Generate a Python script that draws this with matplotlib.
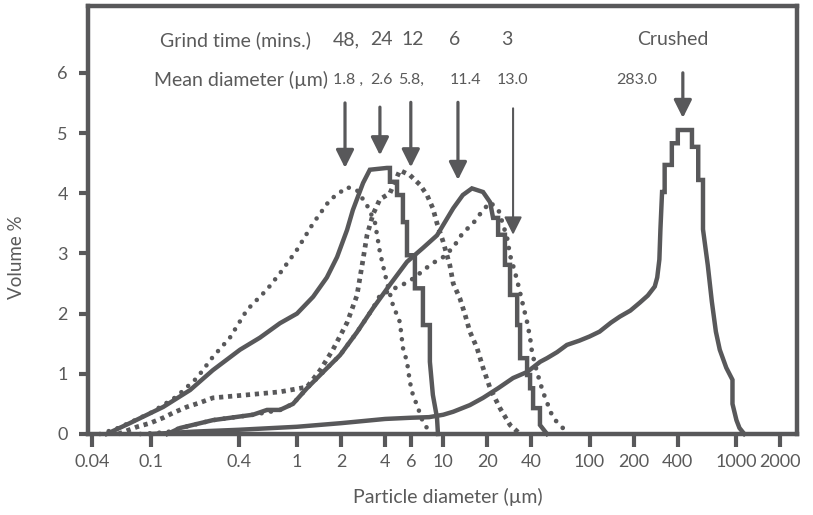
import matplotlib
matplotlib.use("Agg")
import matplotlib.pyplot as plt

# ---------------- data (particle diameter in µm, volume %) ----------------
d48 = [0.045, 0.06, 0.1, 0.15, 0.207, 0.266, 0.348, 0.455, 0.624, 0.765, 1.0, 1.29, 1.68, 2.2, 2.57,
       3.01, 3.41, 3.69, 4.12, 4.53, 5.05, 5.3, 5.65, 5.92, 6.2, 6.61, 7.26, 7.74, 8.1]
v48 = [0.0, 0.1, 0.35, 0.62, 0.93, 1.28, 1.6, 2.06, 2.4, 2.67, 3.06, 3.5, 3.89, 4.1, 4.05,
       3.8, 3.52, 3.02, 2.52, 2.14, 1.86, 1.43, 1.2, 0.86, 0.65, 0.48, 0.2, 0.1, 0.0]

d24 = [0.05, 0.072, 0.122, 0.186, 0.266, 0.408, 0.558, 0.765, 1.0, 1.29, 1.6, 1.88, 2.2, 2.41, 2.83,
       3.15, 4.12, 4.32, 4.32, 4.83, 4.83, 5.3, 5.3, 5.65, 5.65, 6.4, 6.4, 7.26, 7.26, 8.1, 8.1, 8.49, 9.06, 9.2]
v24 = [0.0, 0.18, 0.45, 0.73, 1.06, 1.4, 1.6, 1.84, 2.0, 2.28, 2.6, 2.94, 3.39, 3.72, 4.17,
       4.39, 4.42, 4.42, 4.19, 4.19, 3.97, 3.97, 3.52, 3.52, 2.97, 2.97, 2.42, 2.42, 1.81, 1.81, 1.2, 0.65, 0.27, 0.0]

d12 = [0.06, 0.081, 0.099, 0.122, 0.142, 0.177, 0.217, 0.266, 0.455, 0.765, 1.17, 1.44, 1.76, 2.2, 2.57,
       2.83, 3.01, 3.31, 3.69, 4.32, 5.05, 5.92, 6.93, 7.74, 8.49, 9.06, 9.96, 11.1, 11.7, 13.0, 14.1,
       15.2, 17.0, 18.7, 20.9, 24.4, 28.6, 33.5]
v12 = [0.0, 0.12, 0.18, 0.27, 0.35, 0.45, 0.52, 0.6, 0.65, 0.7, 0.78, 1.06, 1.4, 1.85, 2.3,
       2.9, 3.3, 3.65, 3.9, 4.0, 4.38, 4.3, 4.14, 3.97, 3.75, 3.5, 3.2, 2.8, 2.5, 2.25, 1.98,
       1.7, 1.43, 1.1, 0.76, 0.43, 0.15, 0.0]

d6 = [0.13, 0.159, 0.266, 0.5, 0.624, 0.765, 0.939, 1.17, 1.51, 1.97, 2.57, 3.31, 4.32, 5.65, 7.26,
      9.06, 11.7, 13.6, 15.7, 18.7, 20.9, 21.9, 23.7, 23.7, 26.4, 26.4, 28.6, 28.6, 32.0, 32.0, 33.5,
      33.5, 37.4, 37.4, 39.2, 39.2, 41.1, 41.1, 45.8, 45.8, 51.2]
v6 = [0.0, 0.1, 0.23, 0.32, 0.4, 0.4, 0.5, 0.76, 1.03, 1.31, 1.69, 2.09, 2.48, 2.86, 3.09,
      3.3, 3.75, 3.97, 4.08, 4.02, 3.85, 3.59, 3.59, 3.31, 3.31, 2.81, 2.81, 2.31, 2.31, 1.81, 1.81,
      1.26, 1.26, 0.98, 0.98, 0.76, 0.76, 0.43, 0.43, 0.15, 0.0]

d3 = [0.085, 0.13, 0.16, 0.266, 0.5, 0.765, 0.939, 1.17, 1.51, 1.97, 2.57, 3.31, 3.69, 4.83, 5.47,
      6.4, 7.3, 8.5, 10.0, 11.7, 13.6, 16.0, 18.7, 21.0, 24.0, 27.3, 28.6, 30.9, 32.5, 35.1, 37.4,
      39.2, 40.4, 43.7, 48.0, 52.0, 56.2, 62.7, 70.0, 73.0]
v3 = [0.0, 0.03, 0.1, 0.23, 0.32, 0.4, 0.5, 0.76, 1.03, 1.31, 1.69, 2.09, 2.3, 2.44, 2.5,
      2.6, 2.72, 2.84, 2.94, 3.1, 3.34, 3.5, 3.72, 3.85, 3.7, 3.26, 2.97, 2.69, 2.48, 2.14, 1.86,
      1.6, 1.36, 1.03, 0.7, 0.48, 0.27, 0.15, 0.03, 0.0]

dcr = [0.1, 0.2, 0.4, 1.0, 2.0, 4.0, 6.0, 8.0, 10.0, 11.7, 15.2, 18.7, 23.7, 30.0, 37.4, 46.0, 51.2,
       60.0, 70.0, 85.0, 100.0, 117.0, 140.0, 161.0, 190.0, 220.0, 250.0, 279.0, 290.0, 300.0, 305.0,
       313.0, 326.0, 326.0, 365.0, 365.0, 401.0, 401.0, 501.0, 501.0, 553.0, 553.0, 596.0, 596.0,
       643.0, 685.0, 730.0, 776.0, 860.0, 948.0, 948.0, 1009.0, 1058.0, 1142.0]
vcr = [0.0, 0.04, 0.07, 0.12, 0.18, 0.25, 0.27, 0.28, 0.32, 0.37, 0.48, 0.6, 0.76, 0.93, 1.03, 1.2, 1.26,
       1.36, 1.48, 1.55, 1.62, 1.7, 1.85, 1.95, 2.05, 2.18, 2.3, 2.45, 2.6, 2.9, 3.4,
       4.02, 4.02, 4.47, 4.47, 4.83, 4.83, 5.05, 5.05, 4.77, 4.77, 4.22, 4.22, 3.4,
       2.8, 2.2, 1.7, 1.4, 1.1, 0.9, 0.5, 0.23, 0.1, 0.0]

xticks = [0.04, 0.1, 0.4, 1, 2, 4, 6, 10, 20, 40, 100, 200, 400, 1000, 2000]
xticklabels = ["0.04", "0.1", "0.4", "1", "2", "4", "6", "10", "20", "40", "100", "200", "400", "1000", "2000"]
yticks = [0, 1, 2, 3, 4, 5, 6]

grind_labels = ["48,", "24", "12", "6", "3", "Crushed"]
mean_labels = ["1.8 ,", "2.6", "5.8,", "11.4", "13.0", "283.0"]
arrow_x = [2.13, 3.69, 6.0, 12.6, 30.0, 434.0]
arrow_top = [5.50, 5.43, 5.51, 5.51, 5.41, 6.0]
arrow_tip = [4.42, 4.63, 4.43, 4.22, 3.31, 5.25]

# ---------------- style ----------------
C = "#58585a"
TC = "#5a5a5a"
FONT = ["Lato", "DejaVu Sans"]
plt.rcParams["font.family"] = FONT

W, H = 813, 515
fig = plt.figure(figsize=(W / 100, H / 100), dpi=100)
ax = fig.add_axes([88 / W, 1 - 434 / H, (797 - 88) / W, (434 - 6) / H])

ax.set_xscale("log")
ax.set_xlim(0.0373, 2617)
ax.set_ylim(0, 7.11)

lw = 3.2
ax.plot(dcr, vcr, color=C, lw=lw, solid_joinstyle="miter", clip_on=False)
ax.plot(d6, v6, color=C, lw=lw, solid_joinstyle="miter", clip_on=False)
ax.plot(d24, v24, color=C, lw=lw, solid_joinstyle="miter", clip_on=False)
ax.plot(d12, v12, color=C, lw=3.4, linestyle=(0, (0.9, 1.0)), dash_capstyle="butt", clip_on=False)
ax.plot(d48, v48, color=C, lw=3.3, linestyle=(0, (0.01, 2.0)), dash_capstyle="round", clip_on=False)
ax.plot(d3, v3, color=C, lw=3.4, linestyle=(0, (0.01, 2.0)), dash_capstyle="round", clip_on=False)

for s in ax.spines.values():
    s.set_linewidth(3.2)
    s.set_color(C)

ax.set_xticks(xticks)
ax.set_xticklabels(xticklabels)
ax.xaxis.set_minor_locator(matplotlib.ticker.NullLocator())
ax.set_yticks(yticks)
ax.tick_params(axis="x", direction="out", length=9.5, width=3, color=C, labelcolor=TC,
               labelsize=13, pad=5)
ax.tick_params(axis="y", direction="out", length=6.5, width=3, color=C, labelcolor=TC,
               labelsize=13, pad=8)

fig.text(17 / W, 1 - 257 / H, "Volume %", rotation=90, ha="center", va="center",
         color=TC, fontsize=13.5)
fig.text(448 / W, 1 - 497 / H, "Particle diameter (µm)", ha="center", va="center",
         color=TC, fontsize=14)

# header text
big = 14
small = 11.5
y1, y2 = 6.55, 5.88
ax.text(0.116, y1, "Grind time (mins.)", ha="left", va="center", color=TC, fontsize=big)
g_x = [1.76, 3.15, 5.14, 12.0, 27.3, 372.0]
g_ha = ["left", "left", "left", "center", "center", "center"]
for lab, gx, ha in zip(grind_labels, g_x, g_ha):
    ax.text(gx, y1, lab, ha=ha, va="center", color=TC, fontsize=big)

ax.text(1.63, y2, "Mean diameter (µm)", ha="right", va="center", color=TC, fontsize=big)
m_x = [1.76, 3.15, 4.9, 14.3, 29.5, 211.0]
m_ha = ["left", "left", "left", "center", "center", "center"]
for lab, mx, ha in zip(mean_labels, m_x, m_ha):
    ax.text(mx, y2, lab, ha=ha, va="center", color=TC, fontsize=small)

for i, (axp, yt, yp) in enumerate(zip(arrow_x, arrow_top, arrow_tip)):
    alw = 1.5 if i == 4 else 2.3
    ax.annotate("", xy=(axp, yp), xytext=(axp, yt),
                arrowprops=dict(arrowstyle="-|>,head_length=1.08,head_width=0.54",
                                mutation_scale=10, lw=alw, color=C, shrinkA=0, shrinkB=0))

fig.savefig("out.png", dpi=100)
